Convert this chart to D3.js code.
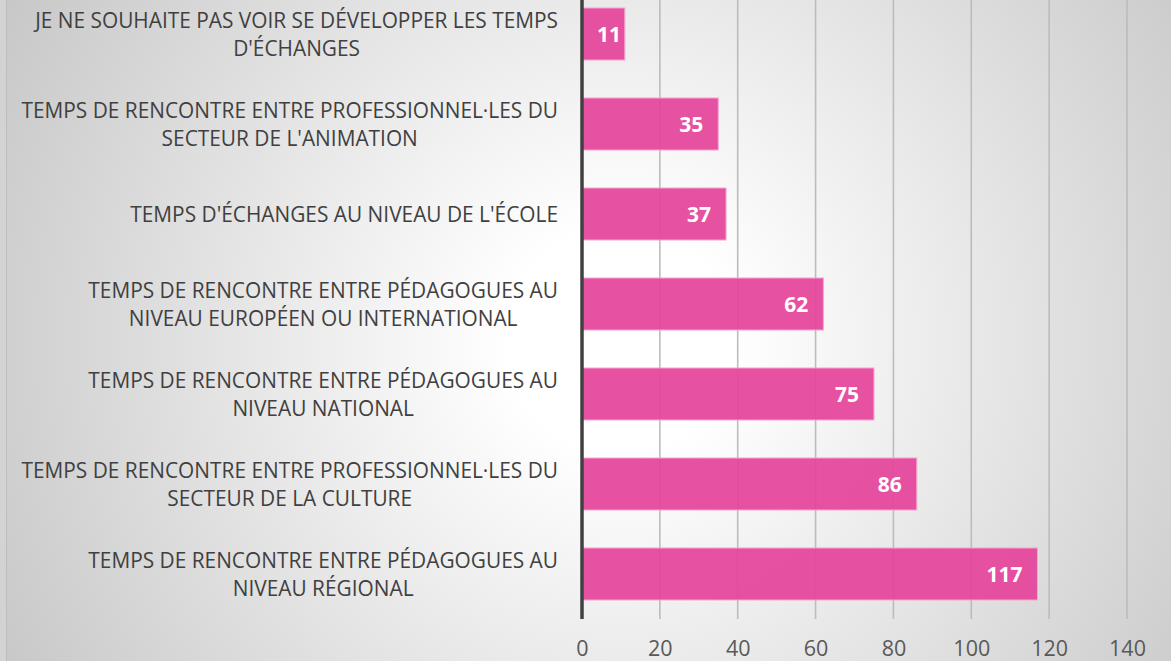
<!DOCTYPE html>
<html><head><meta charset="utf-8">
<script src="https://cdn.jsdelivr.net/npm/d3@7"></script>
<style>html,body{margin:0;padding:0;background:#d3d3d3;overflow:hidden}</style>
</head><body>
<svg id="c" width="1171" height="661"></svg>
<script>
const categories = [
  ["JE NE SOUHAITE PAS VOIR SE DÉVELOPPER LES TEMPS", "D'ÉCHANGES"],
  ["TEMPS DE RENCONTRE ENTRE PROFESSIONNEL·LES DU", "SECTEUR DE L'ANIMATION"],
  ["TEMPS D'ÉCHANGES AU NIVEAU DE L'ÉCOLE"],
  ["TEMPS DE RENCONTRE ENTRE PÉDAGOGUES AU", "NIVEAU EUROPÉEN OU INTERNATIONAL"],
  ["TEMPS DE RENCONTRE ENTRE PÉDAGOGUES AU", "NIVEAU NATIONAL"],
  ["TEMPS DE RENCONTRE ENTRE PROFESSIONNEL·LES DU", "SECTEUR DE LA CULTURE"],
  ["TEMPS DE RENCONTRE ENTRE PÉDAGOGUES AU", "NIVEAU RÉGIONAL"]
];
const values = [11, 35, 37, 62, 75, 86, 117];
const tickValues = [0, 20, 40, 60, 80, 100, 120, 140];

const svg = d3.select("#c");
const W = 1171, H = 661;
const font = "'Open Sans', sans-serif";

// background
const defs = svg.append("defs");
const rg = defs.append("radialGradient").attr("id","bg")
  .attr("gradientUnits","userSpaceOnUse").attr("cx",620).attr("cy",340).attr("r",740);
rg.append("stop").attr("offset","0%").attr("stop-color","#ffffff");
rg.append("stop").attr("offset","15%").attr("stop-color","#ffffff");
rg.append("stop").attr("offset","100%").attr("stop-color","#c4c4c4");
svg.append("rect").attr("x",0).attr("y",0).attr("width",W).attr("height",H).attr("fill","#d3d3d3");
svg.append("rect").attr("x",6).attr("y",0).attr("width",W-6).attr("height",H).attr("fill","url(#bg)");
svg.append("line").attr("x1",6.5).attr("x2",6.5).attr("y1",0).attr("y2",H).attr("stroke","#bdbdbd").attr("stroke-width",1);

const x = d3.scaleLinear().domain([0,140]).range([582,1127]);
const y = d3.scaleBand().domain(d3.range(categories.length)).range([-11,619])
  .paddingInner(0.411).paddingOuter(0.2055);
const plotBottom = 619;

// gridlines
svg.append("g").selectAll("line").data(tickValues.slice(1)).join("line")
  .attr("x1",d=>x(d)).attr("x2",d=>x(d)).attr("y1",0).attr("y2",plotBottom)
  .attr("stroke","#bcbcbc").attr("stroke-width",1.6);

// tick labels
const xAxis = svg.append("g").attr("transform",`translate(0,${plotBottom})`)
  .call(d3.axisBottom(x).tickValues(tickValues).tickSize(0).tickPadding(0));
xAxis.select(".domain").remove();
xAxis.selectAll("text").attr("y",37).attr("dy",null)
  .attr("font-family",font).attr("font-size",21.5).attr("fill","#595959");

// bars
svg.append("g").selectAll("rect").data(values).join("rect")
  .attr("x",x(0)).attr("y",(d,i)=>y(i)+0.5)
  .attr("width",d=>x(d)-x(0)).attr("height",y.bandwidth()-1)
  .attr("fill","#e5469b").attr("fill-opacity",0.94)
  .attr("stroke","#f5a6cf").attr("stroke-width",1);

// axis line
svg.append("line").attr("x1",582).attr("x2",582).attr("y1",0).attr("y2",plotBottom)
  .attr("stroke","#404040").attr("stroke-width",3.5);

// value labels
const vl = svg.append("g").selectAll("text").data(values).join("text")
  .attr("font-family",font).attr("font-weight",700).attr("font-size",21)
  .attr("fill","#ffffff").attr("text-anchor","middle")
  .attr("y",(d,i)=>y(i)+y.bandwidth()/2+8)
  .text(d=>d);
vl.each(function(d){
  const w = this.getComputedTextLength();
  const half = w/2 + 15;
  const cx = Math.max(x(d) - half, x(0) + half);
  d3.select(this).attr("x", cx);
});

// category labels
const squeeze = 0.97;
const lab = svg.append("g");
categories.forEach((lines,i)=>{
  const cy = y(i)+y.bandwidth()/2;
  const g = lab.append("g");
  const texts = lines.map((t,k)=>g.append("text")
      .attr("font-family",font).attr("font-size",21.5).attr("fill","#404040")
      .attr("text-anchor","middle").text(t));
  const widths = texts.map(t=>t.node().getComputedTextLength()*squeeze);
  const maxW = d3.max(widths);
  const cxl = 558 - maxW/2;
  const n = lines.length;
  texts.forEach((t,k)=>{
    const base = cy + 7.75 + (k - (n-1)/2)*28;
    t.attr("x",cxl).attr("y",base)
     .attr("textLength",widths[k]).attr("lengthAdjust","spacingAndGlyphs");
  });
});
</script>
</body></html>
